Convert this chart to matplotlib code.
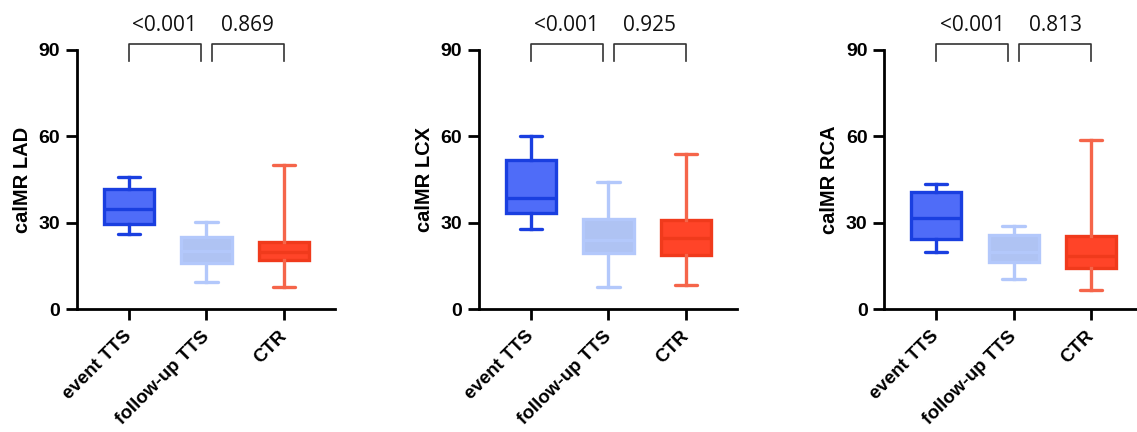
import matplotlib.pyplot as plt

groups = ["event TTS", "follow-up TTS", "CTR"]
panels = ["calMR LAD", "calMR LCX", "calMR RCA"]

# box stats per panel: [event TTS, follow-up TTS, CTR]
whislo = [[26.0, 9.3, 7.8], [27.7, 7.6, 8.3], [19.8, 10.3, 6.5]]
q1 = [[29.6, 16.1, 17.2], [33.3, 19.6, 18.9], [24.4, 16.2, 14.1]]
med = [[34.6, 20.2, 19.8], [38.7, 23.9, 24.8], [31.7, 19.7, 18.3]]
q3 = [[41.6, 25.1, 23.2], [51.8, 31.2, 31.0], [40.6, 25.7, 25.4]]
whishi = [[45.9, 30.1, 50.0], [60.0, 44.3, 54.0], [43.3, 28.7, 58.8]]

pvals = [["<0.001", "0.869"], ["<0.001", "0.925"], ["<0.001", "0.813"]]
yticks = [0, 30, 60, 90]

fills = ["#4f6cf8", "#afc3f3", "#ff4428"]
edges = ["#1a3fe0", "#b3c8fb", "#f03a1c"]
whisk = ["#1a3fe0", "#b3c8fb", "#f5654a"]

plt.rcParams['font.family'] = ['Liberation Sans', 'DejaVu Sans']

fig = plt.figure(figsize=(11.37, 4.32), dpi=100)
W, H = 1137.0, 432.0
lefts = [77, 479, 884.3]
ax_w = 258
ax_bot = 309
ax_top = 50

for i in range(3):
    ax = fig.add_axes([lefts[i] / W, (H - ax_bot) / H, ax_w / W, (ax_bot - ax_top) / H])
    stats = []
    for j in range(3):
        stats.append(dict(med=med[i][j], q1=q1[i][j], q3=q3[i][j],
                          whislo=whislo[i][j], whishi=whishi[i][j], fliers=[]))
    bp = ax.bxp(stats, positions=[0, 1, 2], widths=0.65, patch_artist=True,
                showfliers=False)
    for j in range(3):
        bp['boxes'][j].set(facecolor=fills[j], edgecolor=edges[j], linewidth=2.4)
        bp['medians'][j].set(color=edges[j], linewidth=2.4)
        for k in (2 * j, 2 * j + 1):
            bp['whiskers'][k].set(color=whisk[j], linewidth=2.4)
            bp['caps'][k].set(color=whisk[j], linewidth=2.4, solid_capstyle='round')
            bp['caps'][k].set_xdata([j - 0.145, j + 0.145])
    ax.set_xlim(-0.67, 2.66)
    ax.set_ylim(0, 90)
    ax.set_yticks(yticks)
    ax.set_yticklabels([str(t) for t in yticks], fontsize=14, fontweight='bold')
    ax.set_xticks([0, 1, 2])
    ax.set_xticklabels(groups, rotation=45, ha='right', va='center',
                       rotation_mode='anchor', fontsize=13.5, fontweight='bold')
    ax.set_ylabel(panels[i], fontsize=14.5, fontweight='bold', labelpad=5)
    for s in ('top', 'right'):
        ax.spines[s].set_visible(False)
    for s in ('left', 'bottom'):
        ax.spines[s].set_linewidth(2)
    ax.tick_params(axis='both', direction='out', length=8, width=2, pad=4)
    ax.tick_params(axis='x', pad=10)

    # significance brackets
    y0, y1 = 86.2, 92
    br = [(0, 0.93), (1.07, 2)]
    for (xa, xb), p in zip(br, pvals[i]):
        ax.plot([xa, xa, xb, xb], [y0, y1, y1, y0], color='#333333', lw=1.2,
                clip_on=False)
        ax.text((xa + xb) / 2, 96.6, p, ha='center', va='baseline', fontsize=15,
                family=['Open Sans', 'DejaVu Sans'], color='#111111')

fig.savefig("out.png", dpi=100)
